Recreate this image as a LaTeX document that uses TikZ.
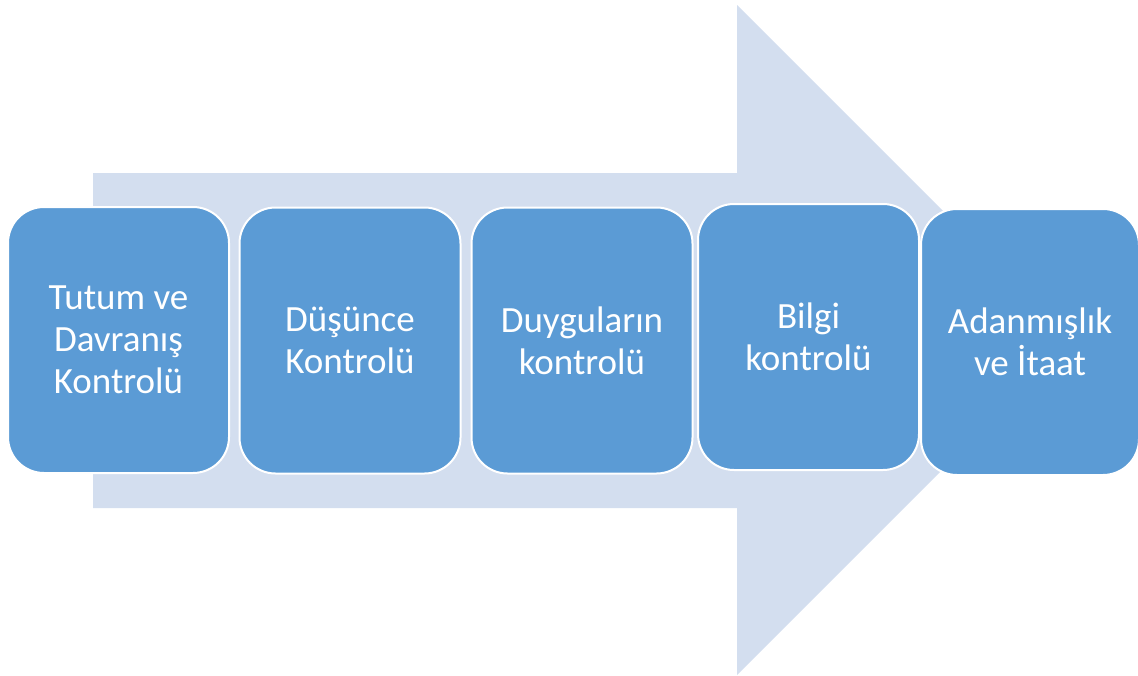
\documentclass[tikz,border=0pt]{standalone}
\usepackage{fontspec}
\setmainfont{Carlito}
\usepackage{xcolor}
\definecolor{boxblue}{HTML}{5B9BD5}
\definecolor{arrowblue}{HTML}{D3DEEF}

\tikzset{
  stage/.style={draw=white, line width=2pt, fill=boxblue, rounded corners=36pt,
    minimum width=221pt, minimum height=266pt, inner sep=0pt, align=center,
    text=white, font=\fontsize{37}{42}\selectfont}
}

\begin{document}
\begin{tikzpicture}[x=1pt, y=-1pt]
            \useasboundingbox (0,0) rectangle (1138,675);

            % Arka ok
            \fill[arrowblue] (93,173) -- (737,173) -- (737,5) -- (1072,340)
                -- (737,675) -- (737,508) -- (93,508) -- cycle;

            % Kutular
            \node[stage] (tutum) at (118.5,340) {Tutum ve\\Davranış\\Kontrolü};
            \node[stage] (dusunce) at (350,340.5) {Düşünce\\Kontrolü};
            \node[stage] (duygu) at (582,340.5) {Duyguların\\kontrolü};
            \node[stage] (bilgi) at (808.5,337) {Bilgi\\kontrolü};
            \node[stage, minimum width=218pt] (adanma) at (1030,342) {Adanmışlık\\ve İtaat};
        \end{tikzpicture}
\end{document}
